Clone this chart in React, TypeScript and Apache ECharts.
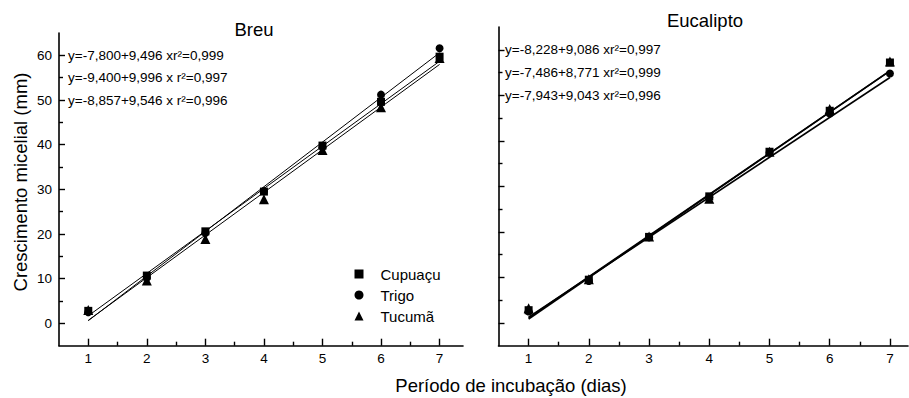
import React, { useEffect, useRef } from "react";
import * as echarts from "echarts";

// ---------- data ----------
const days = [1, 2, 3, 4, 5, 6, 7];
const seriesNames = ["Cupuaçu", "Trigo", "Tucumã"];
const seriesSymbols = ["rect", "circle", "triangle"];
const seriesSymbolSizes = [8, 8, 10];

const breuCupuacu = [2.8, 10.7, 20.6, 29.5, 39.8, 49.6, 59.7];
const breuTrigo = [2.5, 10.2, 20.2, 29.6, 39.4, 51.2, 61.6];
const breuTucuma = [3.0, 9.6, 18.9, 27.8, 38.8, 48.4, 59.4];

const eucCupuacu = [2.8, 9.5, 18.9, 27.8, 37.6, 46.6, 57.2];
const eucTrigo = [2.5, 9.2, 18.8, 27.6, 37.4, 46.0, 54.8];
const eucTucuma = [3.2, 9.6, 19.0, 27.3, 37.6, 47.0, 57.4];

const breuIntercepts = [-7.8, -9.4, -8.857];
const breuSlopes = [9.496, 9.996, 9.546];
const eucIntercepts = [-8.228, -7.486, -7.943];
const eucSlopes = [9.086, 8.771, 9.043];

const breuEquations = [
  "y=-7,800+9,496 xr²=0,999",
  "y=-9,400+9,996 x r²=0,997",
  "y=-8,857+9,546 x r²=0,996",
];
const eucEquations = [
  "y=-8,228+9,086 xr²=0,997",
  "y=-7,486+8,771 xr²=0,999",
  "y=-7,943+9,043 xr²=0,996",
];
const equationLevels = [60, 55, 50];

const panelTitles = ["Breu", "Eucalipto"];
const yAxisTitle = "Crescimento micelial (mm)";
const xAxisTitle = "Período de incubação (dias)";

// ---------- layout ----------
const FONT = "'Liberation Sans', Arial, Helvetica, sans-serif";
const Y_MIN = -5;
const Y_MAX = 65;
const X_MIN = 0.5;

const panels = [
  {
    left: 59, top: 33, width: 404, bottom: 345.7, xMax: 7.4,
    showYLabels: true, values: [breuCupuacu, breuTrigo, breuTucuma],
    intercepts: breuIntercepts, slopes: breuSlopes, equations: breuEquations,
    title: panelTitles[0], titleX: 254, titleY: 29, eqX: 68, lineWidth: 1,
  },
  {
    left: 498.5, top: 27, width: 409.5, bottom: 345.7, xMax: 7.3,
    showYLabels: false, values: [eucCupuacu, eucTrigo, eucTucuma],
    intercepts: eucIntercepts, slopes: eucSlopes, equations: eucEquations,
    title: panelTitles[1], titleX: 705, titleY: 20, eqX: 505, lineWidth: 1.6,
  },
];

function buildOption() {
  const grid: any[] = [];
  const xAxis: any[] = [];
  const yAxis: any[] = [];
  const series: any[] = [];
  const graphic: any[] = [];

  const tickLine = { color: "#000", width: 1.4 };
  const label = { color: "#000", fontSize: 13.5, fontFamily: FONT };

  panels.forEach((p, i) => {
    const height = p.bottom - p.top;
    const pxX = (v: number) => p.left + ((v - X_MIN) / (p.xMax - X_MIN)) * p.width;
    const pxY = (v: number) => p.top + ((Y_MAX - v) / (Y_MAX - Y_MIN)) * height;
    const gA = i * 3, gB = i * 3 + 1, gC = i * 3 + 2;

    grid.push({ left: p.left, top: p.top, width: p.width, height });
    grid.push({ left: pxX(1), top: p.top, width: pxX(7) - pxX(1), height });
    grid.push({ left: p.left, top: pxY(60), width: p.width, height: pxY(0) - pxY(60) });

    xAxis.push({
      gridIndex: gA, type: "value", min: X_MIN, max: p.xMax,
      axisLine: { show: true, onZero: false, lineStyle: { color: "#000", width: 1.6 } },
      axisTick: { show: false }, axisLabel: { show: false }, splitLine: { show: false },
    });
    yAxis.push({
      gridIndex: gA, type: "value", min: Y_MIN, max: Y_MAX,
      axisLine: { show: true, onZero: false, lineStyle: { color: "#000", width: 1.6 } },
      axisTick: { show: false }, axisLabel: { show: false }, splitLine: { show: false },
    });

    xAxis.push({
      gridIndex: gB, type: "value", min: 1, max: 7, interval: 1,
      axisLine: { show: false, onZero: false },
      axisTick: { show: true, inside: true, length: 7, lineStyle: tickLine },
      minorTick: { show: true, splitNumber: 2, length: 4, lineStyle: tickLine },
      axisLabel: { ...label, margin: 6 },
      splitLine: { show: false },
    });
    yAxis.push({ gridIndex: gB, type: "value", min: Y_MIN, max: Y_MAX, show: false });

    xAxis.push({ gridIndex: gC, type: "value", min: X_MIN, max: p.xMax, show: false });
    yAxis.push({
      gridIndex: gC, type: "value", min: 0, max: 60, interval: 10,
      axisLine: { show: false, onZero: false },
      axisTick: { show: true, inside: true, length: 6, lineStyle: tickLine },
      minorTick: { show: true, splitNumber: 2, length: 4, lineStyle: tickLine },
      axisLabel: { ...label, show: p.showYLabels, margin: 7 },
      splitLine: { show: false },
    });

    seriesNames.forEach((name, k) => {
      const a = p.intercepts[k];
      const b = p.slopes[k];
      const x0 = days[0];
      const x1 = days[days.length - 1];
      series.push({
        type: "line",
        name: name + " (ajuste " + p.title + ")",
        xAxisIndex: gA, yAxisIndex: gA,
        data: [[x0, a + b * x0], [x1, a + b * x1]],
        symbol: "none", silent: true, z: 2,
        lineStyle: { color: "#000", width: p.lineWidth },
      });
      series.push({
        type: "scatter", name,
        xAxisIndex: gA, yAxisIndex: gA,
        symbol: seriesSymbols[k], symbolSize: seriesSymbolSizes[k],
        itemStyle: { color: "#000", opacity: 1 }, z: 3,
        data: days.map((d, j) => [d, p.values[k][j]]),
      });
    });

    graphic.push({
      type: "text", x: p.titleX, y: p.titleY,
      style: { text: p.title, font: `18.5px ${FONT}`, fill: "#000", align: "center", verticalAlign: "middle" },
    });
    p.equations.forEach((eq, k) => {
      graphic.push({
        type: "text", x: p.eqX, y: pxY(equationLevels[k]),
        style: { text: eq, font: `13.5px ${FONT}`, fill: "#000", align: "left", verticalAlign: "middle" },
      });
    });
  });

  graphic.push({
    type: "text", x: 20, y: 182, rotation: Math.PI / 2,
    style: { text: yAxisTitle, font: `18.5px ${FONT}`, fill: "#000", align: "center", verticalAlign: "middle" },
  });
  graphic.push({
    type: "text", x: 511, y: 385,
    style: { text: xAxisTitle, font: `18.5px ${FONT}`, fill: "#000", align: "center", verticalAlign: "middle" },
  });

  return {
    animation: false,
    backgroundColor: "#fff",
    grid, xAxis, yAxis, series, graphic,
    legend: {
      data: seriesNames, orient: "vertical", left: 354.5, top: 266.5, padding: 0,
      itemWidth: 9, itemHeight: 9, itemGap: 6, selectedMode: false,
      itemStyle: { opacity: 1 },
      formatter: (name: string) => "{g|}" + name,
      textStyle: {
        fontSize: 15, color: "#000", lineHeight: 15, fontFamily: FONT,
        rich: { g: { width: 12 } },
      },
    },
  };
}

export default function App() {
  const ref = useRef<HTMLDivElement>(null);
  useEffect(() => {
    if (!ref.current) return;
    const chart = echarts.init(ref.current, undefined, { renderer: "svg" });
    chart.setOption(buildOption() as any);
    return () => chart.dispose();
  }, []);
  return (
    <div
      ref={ref}
      style={{ position: "fixed", left: 0, top: 0, width: 909, height: 398, background: "#fff" }}
    />
  );
}
